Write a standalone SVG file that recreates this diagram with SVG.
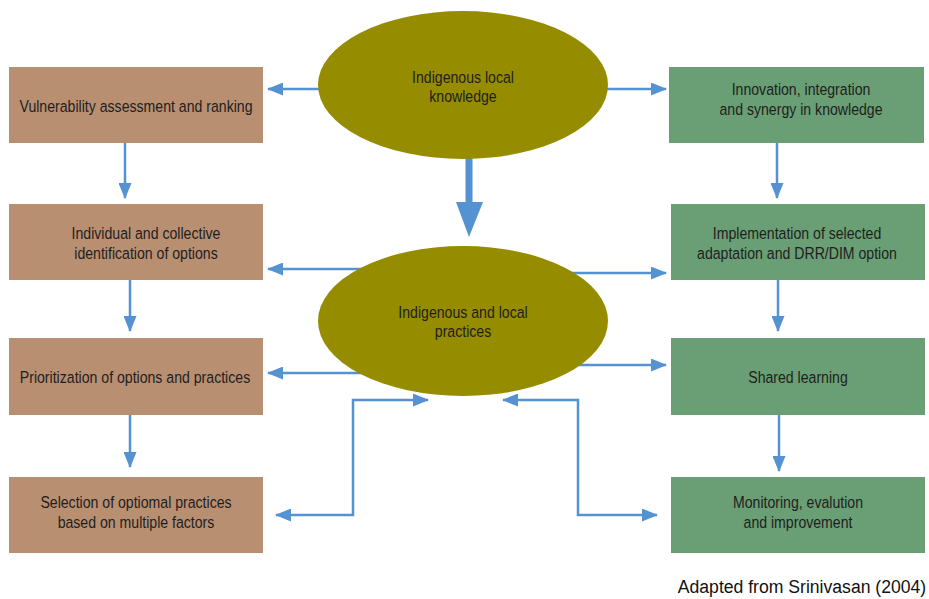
<svg xmlns="http://www.w3.org/2000/svg" width="929" height="599" viewBox="0 0 929 599">
<style>
.lb{fill:#b98f72;}
.gb{fill:#6a9e74;}
.el{fill:#968c00;}
.t{font-family:"Liberation Sans",Arial,sans-serif;font-size:17px;fill:#1e1e1e;text-anchor:middle;}
.cap{font-family:"Liberation Sans",Arial,sans-serif;font-size:17.6px;fill:#111;text-anchor:middle;}
.c{fill:none;stroke:#5592d2;stroke-width:2.5;}
</style>
<defs>
<marker id="ah" markerUnits="userSpaceOnUse" markerWidth="16" markerHeight="13" refX="15" refY="6.5" orient="auto-start-reverse">
<path d="M0,0 L16,6.5 L0,13 Z" fill="#5592d2"/>
</marker>
</defs>
<rect width="929" height="599" fill="#fff"/>
<g id="connectors">
<line class="c" x1="330" y1="89" x2="268" y2="89" marker-end="url(#ah)"/>
<line class="c" x1="596" y1="89" x2="666" y2="89" marker-end="url(#ah)"/>
<polygon points="465.5,155 472.5,155 472.5,202 483,202 469,237 456,202 465.5,202" fill="#5592d2"/>
<line class="c" x1="125" y1="143" x2="125" y2="198" marker-end="url(#ah)"/>
<line class="c" x1="130" y1="280" x2="130" y2="331" marker-end="url(#ah)"/>
<line class="c" x1="130" y1="415" x2="130" y2="467" marker-end="url(#ah)"/>
<line class="c" x1="777" y1="143" x2="777" y2="198" marker-end="url(#ah)"/>
<line class="c" x1="778" y1="280" x2="778" y2="331" marker-end="url(#ah)"/>
<line class="c" x1="779" y1="415" x2="779" y2="471" marker-end="url(#ah)"/>
<line class="c" x1="370" y1="269" x2="268" y2="269" marker-end="url(#ah)"/>
<line class="c" x1="370" y1="373" x2="268" y2="373" marker-end="url(#ah)"/>
<line class="c" x1="560" y1="273" x2="666" y2="273" marker-end="url(#ah)"/>
<line class="c" x1="560" y1="365" x2="666" y2="365" marker-end="url(#ah)"/>
<polyline class="c" points="276,515 353,515 353,400 428,400" marker-start="url(#ah)" marker-end="url(#ah)"/>
<polyline class="c" points="503,400 578,400 578,515 657,515" marker-start="url(#ah)" marker-end="url(#ah)"/>
</g>
<g id="knowledge">
<ellipse class="el" cx="463" cy="85" rx="145" ry="74"/>
<text class="t" transform="translate(463,0) scale(0.83,1)"><tspan x="0" y="83">Indigenous local</tspan><tspan x="0" y="102">knowledge</tspan></text>
</g>
<g id="practices">
<ellipse class="el" cx="463" cy="321" rx="145" ry="75"/>
<text class="t" transform="translate(463,0) scale(0.83,1)"><tspan x="0" y="318">Indigenous and local</tspan><tspan x="0" y="337">practices</tspan></text>
</g>
<g id="vulnerability">
<rect class="lb" x="9" y="67" width="254" height="76"/>
<text class="t" transform="translate(136,0) scale(0.83,1)" x="0" y="112">Vulnerability assessment and ranking</text>
</g>
<g id="identification">
<rect class="lb" x="9" y="204" width="254" height="76"/>
<text class="t" transform="translate(146,0) scale(0.83,1)"><tspan x="0" y="239">Individual and collective</tspan><tspan x="0" y="259">identification of options</tspan></text>
</g>
<g id="prioritization">
<rect class="lb" x="9" y="338" width="254" height="77"/>
<text class="t" transform="translate(135,0) scale(0.83,1)" x="0" y="383">Prioritization of options and practices</text>
</g>
<g id="selection">
<rect class="lb" x="9" y="477" width="254" height="76"/>
<text class="t" transform="translate(136,0) scale(0.83,1)"><tspan x="0" y="508">Selection of optiomal practices</tspan><tspan x="0" y="528">based on multiple factors</tspan></text>
</g>
<g id="innovation">
<rect class="gb" x="669" y="67" width="255" height="76"/>
<text class="t" transform="translate(801,0) scale(0.83,1)"><tspan x="0" y="95">Innovation, integration</tspan><tspan x="0" y="115">and synergy in knowledge</tspan></text>
</g>
<g id="implementation">
<rect class="gb" x="671" y="204" width="254" height="76"/>
<text class="t" transform="translate(797,0) scale(0.83,1)"><tspan x="0" y="239">Implementation of selected</tspan><tspan x="0" y="259">adaptation and DRR/DIM option</tspan></text>
</g>
<g id="shared">
<rect class="gb" x="671" y="338" width="254" height="77"/>
<text class="t" transform="translate(798,0) scale(0.83,1)" x="0" y="383">Shared learning</text>
</g>
<g id="monitoring">
<rect class="gb" x="671" y="477" width="254" height="76"/>
<text class="t" transform="translate(798,0) scale(0.83,1)"><tspan x="0" y="508">Monitoring, evalution</tspan><tspan x="0" y="528">and improvement</tspan></text>
</g>
<text class="cap" x="802" y="593">Adapted from Srinivasan (2004)</text>
</svg>
